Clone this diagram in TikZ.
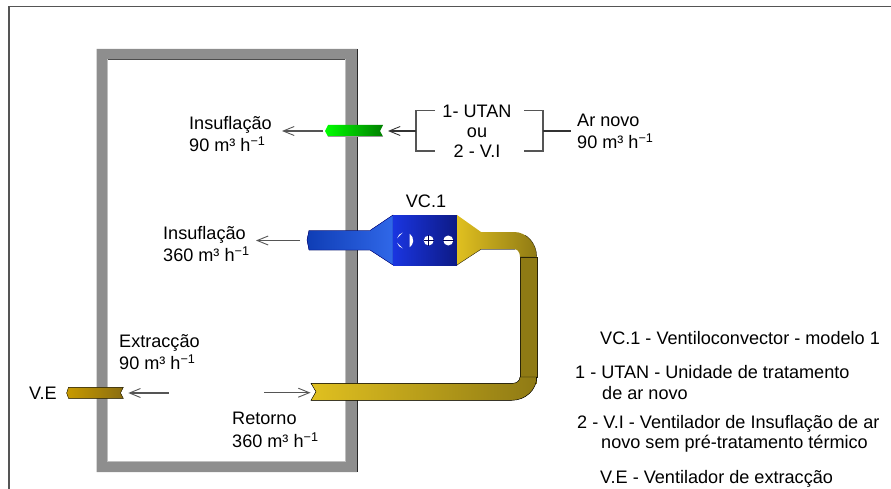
\documentclass[tikz,border=0pt]{standalone}
\usepackage{fontspec}
\setmainfont{Liberation Sans}
\usetikzlibrary{arrows.meta}
\definecolor{wallgray}{HTML}{8E8E8E}
\definecolor{linegray}{HTML}{555555}
\definecolor{ductedge}{HTML}{2A2408}
\definecolor{ductlight}{HTML}{E0C020}
\definecolor{ductdark}{HTML}{8F7A14}
\definecolor{extlight}{HTML}{C89A00}
\definecolor{extdark}{HTML}{8A6D10}
\definecolor{bluedark}{HTML}{0F3DB5}
\definecolor{bluelight}{HTML}{3068E8}
\definecolor{boxlight}{HTML}{1A35E0}
\definecolor{boxdark}{HTML}{0D1A85}
\newcommand{\flowrate}[1]{#1 m³ h\textsuperscript{−1}}
\tikzset{
	lbl/.style={anchor=west, inner sep=0pt, text height=13pt, text depth=0pt, font=\fontsize{18.1}{20}\selectfont},
	lblc/.style={lbl, anchor=center},
	flow/.style={draw=linegray, line width=1.1pt, -{Straight Barb[length=11pt, width=9pt, line width=0.9pt]}},
	bracketline/.style={draw=linegray, line width=1.1pt},
	yellowduct/.style={left color=ductlight, right color=ductdark},
}
\begin{document}
\begin{tikzpicture}[x=1pt, y=-1pt]
	\useasboundingbox (0,0) rectangle (891,489);
	\draw[linegray, line width=1.5pt] (9,489) -- (9,6.5) -- (891,6.5);
	\fill[wallgray, even odd rule] (96.5,49) rectangle (357,472) (107,59.5) rectangle (345,461.5);
	\draw[black!85, thin] (357,49) -- (357,472);
	\draw[black!70, thin] (345,59.5) -- (107,59.5);
	\draw[black!25, thin] (107,59.5) -- (107,461.5) -- (345,461.5) -- (345,59.5);

	\coordinate (greenl) at (325,131);
	\coordinate (greenr) at (380,131);
	\shade[left color=green, right color=green!50!black] (greenl) -- (328,125) -- (383,125) -- (greenr) -- (383,136.5) -- (328,136.5) -- cycle;
	\draw[black!40, thin] (328,136.5) -- (383,136.5);
	\coordinate (blowa) at (282,131);
	\draw[flow] (greenl) ++(-2,0) -- (blowa);

	\node[lblc] (utan) at (477,111) {1- UTAN};
	\node[lblc] (ou) at (477,131) {ou};
	\node[lblc] (vi) at (477,151) {2 - V.I};
	\coordinate (brl) at (416,131);
	\coordinate (brr) at (543,131);
	\coordinate (arin) at (571,131);
	\draw[bracketline] (435,110.7) -- (416,110.7) -- (416,151) -- (435,151);
	\draw[bracketline] (524,110.7) -- (543,110.7) -- (543,151) -- (524,151);
	\draw[bracketline, black!80] (brr) -- (arin);
	\draw[flow, black!80] (brl) -- (388,131);

	\node[lbl] (ins1) at (189,123) {Insuflação};
	\node[lbl] (ins1q) at (189,145) {\flowrate{90}};
	\node[lbl] (ins2) at (163,233) {Insuflação};
	\node[lbl] (ins2q) at (163,255) {\flowrate{360}};
	\node[lbl] (ext) at (119,341) {Extracção};
	\node[lbl] (extq) at (119,363) {\flowrate{90}};
	\node[lbl] (ret) at (232,418) {Retorno};
	\node[lbl] (retq) at (232,441) {\flowrate{360}};
	\node[lbl] (ar) at (577,120) {Ar novo};
	\node[lbl] (arq) at (577,142) {\flowrate{90}};
	\node[lbl] (ve) at (29,393) {V.E};
	\node[lblc] (vc) at (426,201) {VC.1};

	\coordinate (bluel) at (307,240);
	\filldraw[draw=blue!50!black, left color=bluedark, right color=bluelight] (bluel) -- (309,230.5) -- (370,230.5) -- (393,215) -- (393,265) -- (370,250) -- (309,250) -- cycle;
	\shade[left color=boxlight, right color=boxdark] (393,215) rectangle (457,265);
	\coordinate (blowb) at (256,240.5);
	\draw[flow] (300,240.5) -- (blowb);

	\fill[white] (405,240.5) ++(105:8.2) arc (105:165:8.2) -- cycle;
	\fill[white] (405,240.5) ++(195:8.2) arc (195:255:8.2) -- cycle;
	\fill[white] (405,240.5) ++(-55:8.2) arc (-55:55:8.2) -- cycle;
	\node[circle, fill=white, minimum size=10pt, inner sep=0pt] (plus) at (428.7,240.5) {};
	\node[circle, fill=white, minimum size=10pt, inner sep=0pt] (minus) at (448.3,240.5) {};
	\draw[blue!30!black, thick] (plus.west) -- (plus.east) (plus.north) -- (plus.south);
	\draw[blue!30!black, thick] (minus.west) -- (minus.east);

	\shade[yellowduct] (457,215) -- (481,232) -- (514,232) arc (-90:0:22.7 and 25) -- (520,257) arc (0:-90:5 and 7.7) -- (481,249.3) -- (457,265) -- cycle;
	\draw[ductedge, thin] (457,265) -- (481,249.3);
	\draw[black!50, thin] (481,249.3) -- (515,249.3);
	\draw[ductedge, thin] (525.35,235.35) arc (-60:0:22.7 and 25);
	\fill[ductdark] (520,256) rectangle (536.7,384);
	\draw[ductedge, thin] (536.7,257) -- (536.7,378);
	\draw[ductedge, thick] (520,257) -- (520,377);
	\draw[ductedge, thin] (520,257) -- (536.7,257);

	\coordinate (retr) at (316,391.7);
	\filldraw[yellowduct, draw=black, thin] (retr) -- (311,383.3) -- (513,383.3) arc (90:0:7 and 6.3) -- (536.7,377) arc (0:90:25 and 23.3) -- (311,400.3) -- cycle;
	\coordinate (reta) at (264,392.7);
	\draw[flow] (reta) -- (310.5,392.7);

	\coordinate (exr) at (120.5,393);
	\filldraw[draw=ductedge, thin, left color=extlight, right color=extdark] (66.7,393) -- (68.5,387.3) -- (123.3,387.3) -- (exr) -- (123.3,398.3) -- (68.5,398.3) -- cycle;
	\coordinate (exa) at (168.7,393);
	\draw[flow] (exa) -- (128.3,393);

	\node[lbl] (k1) at (600,338) {VC.1 - Ventiloconvector - modelo 1};
	\node[lbl] (k2) at (575,372) {1 - UTAN - Unidade de tratamento};
	\node[lbl] (k3) at (602,393) {de ar novo};
	\node[lbl] (k4) at (577,421.7) {2 - V.I - Ventilador de Insuflação de ar};
	\node[lbl] (k5) at (601,442) {novo sem pré-tratamento térmico};
	\node[lbl] (k6) at (600,476.7) {V.E - Ventilador de extracção};
\end{tikzpicture}
\end{document}
